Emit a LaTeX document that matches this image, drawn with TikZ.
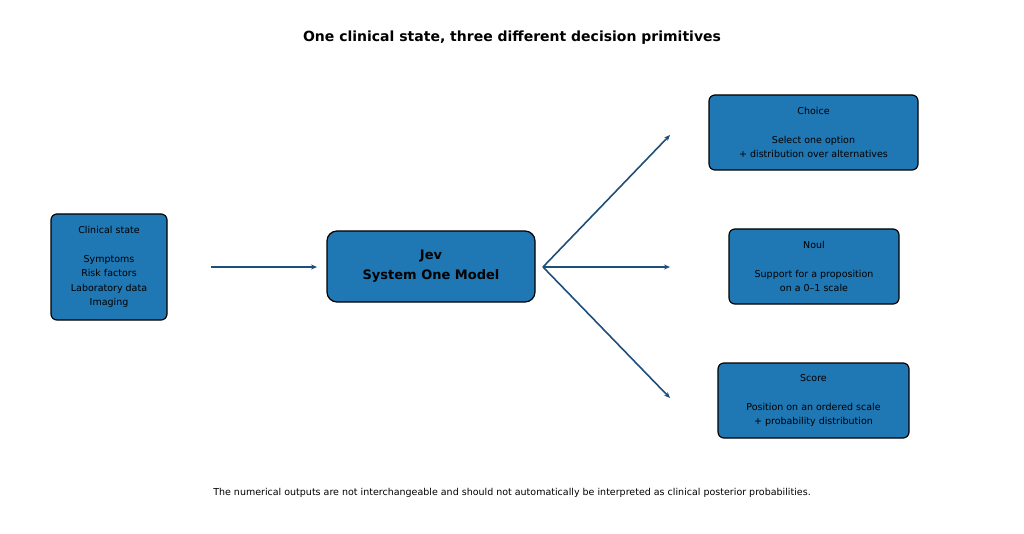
\documentclass[tikz,border=0pt]{standalone}
\usepackage{fontspec}
\setmainfont{DejaVu Sans}
\usetikzlibrary{arrows.meta}
\definecolor{boxblue}{HTML}{1F77B4}
\definecolor{arrblue}{HTML}{1F4E79}
\begin{document}
\begin{tikzpicture}[x=1pt,y=-1pt,
  box/.style={draw=black,line width=1.2pt,fill=boxblue,rounded corners=6pt,inner sep=0pt,align=center,font=\fontsize{9.5}{14.5}\selectfont},
  arr/.style={draw=arrblue,line width=1.6pt,-{Stealth[length=6pt,width=5pt]}}]
\useasboundingbox (0,0) rectangle (1024,534);
\node[font=\bfseries\fontsize{14}{16}\selectfont] (title) at (512,38) {One clinical state, three different decision primitives};
\node[box,minimum width=116pt,minimum height=106pt] (cs) at (109,267) {Clinical state\\[14.5pt]Symptoms\\Risk factors\\Laboratory data\\Imaging};
\node[box,minimum width=208pt,minimum height=71pt,rounded corners=10pt,font=\bfseries\fontsize{13}{20}\selectfont] (jev) at (431,266.5) {Jev\\System One Model};
\node[box,minimum width=209pt,minimum height=75pt] (ch) at (813.5,132.5) {Choice\\[14.5pt]Select one option\\+ distribution over alternatives};
\node[box,minimum width=170pt,minimum height=75pt] (no) at (814,266.5) {Noul\\[14.5pt]Support for a proposition\\on a 0–1 scale};
\node[box,minimum width=191pt,minimum height=75pt] (sc) at (813.5,400.5) {Score\\[14.5pt]Position on an ordered scale\\+ probability distribution};
\coordinate (a0) at (211,267); \coordinate (a1) at (317,267);
\coordinate (o) at (543,267);
\coordinate (t1) at (670,135); \coordinate (t2) at (670,267); \coordinate (t3) at (670,398);
\draw[arr] (a0) -- (a1);
\draw[arr] (o) -- (t1);
\draw[arr] (o) -- (t2);
\draw[arr] (o) -- (t3);
\node[font=\fontsize{9.5}{12}\selectfont] (foot) at (512,493) {The numerical outputs are not interchangeable and should not automatically be interpreted as clinical posterior probabilities.};
\end{tikzpicture}
\end{document}
